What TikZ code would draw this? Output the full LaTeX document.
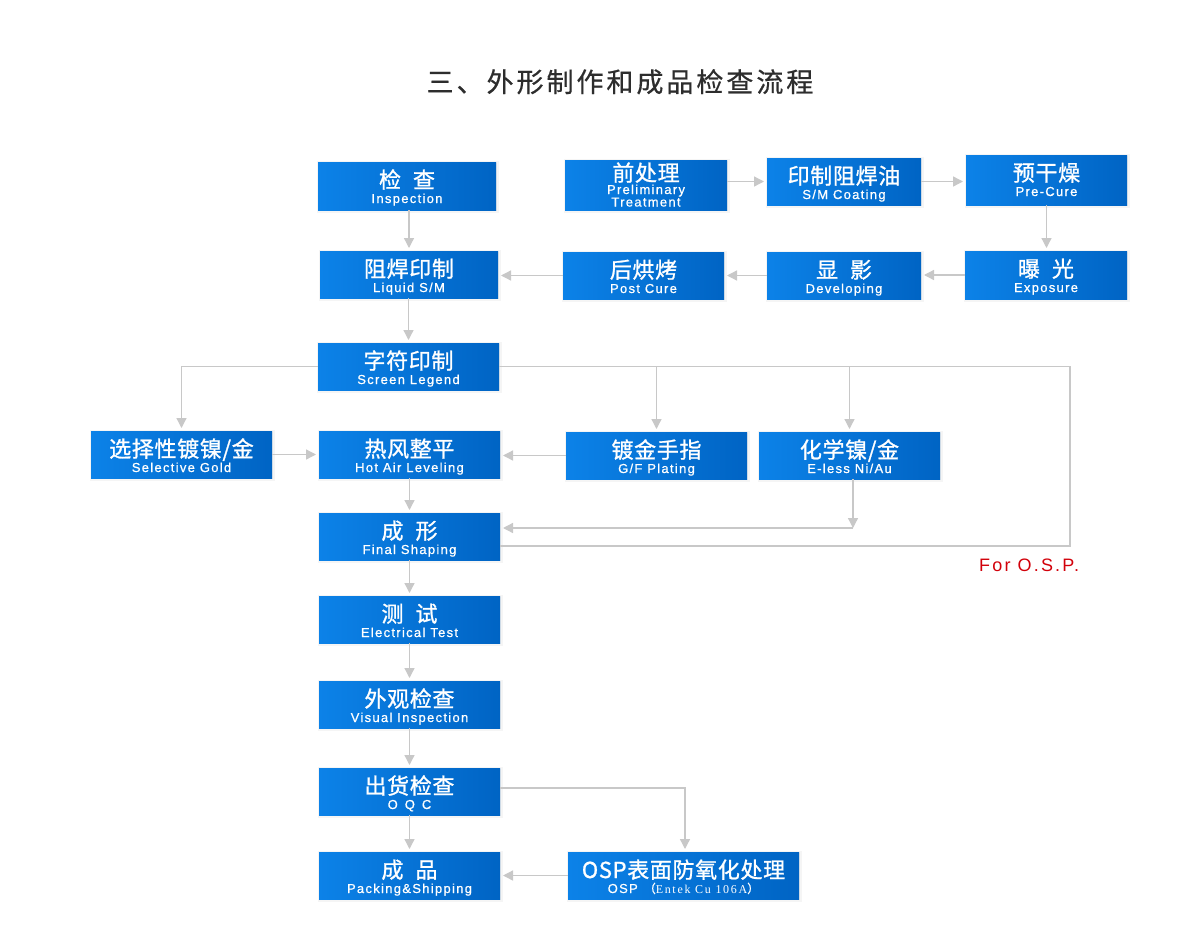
\documentclass[tikz,border=0pt]{standalone}
\usepackage{fontspec}
\usetikzlibrary{arrows.meta,calc}
\setmainfont{Liberation Sans}
\newfontfamily\zhf[LetterSpace=3,FakeBold=1.1]{Noto Sans CJK SC}
\newfontfamily\titlef[LetterSpace=11,FakeBold=0.6]{Noto Sans CJK SC}
\newfontfamily\enf[LetterSpace=10,FakeBold=0.7]{Liberation Sans}
\newfontfamily\serf[LetterSpace=14]{Liberation Serif}
\newfontfamily\ospf[LetterSpace=12]{Liberation Sans}
\definecolor{bl}{RGB}{12,130,232}
\definecolor{br}{RGB}{0,100,196}
\definecolor{lg}{RGB}{200,200,200}
\definecolor{ttl}{RGB}{45,45,45}
\definecolor{osr}{RGB}{210,0,10}
\tikzset{
 box/.style={rectangle, inner sep=0pt, outer sep=0pt, left color=bl, right color=br, draw=none},
 boxsh/.style={rectangle, inner sep=0pt, outer sep=0pt, fill=black!8, draw=black!4, line width=2pt},
 zh/.style={text=white, inner sep=0pt, anchor=base, font=\zhf\fontsize{22}{22}\selectfont},
 en/.style={text=white, inner sep=0pt, anchor=base, font=\enf\fontsize{13}{13}\selectfont},
 con/.style={draw=lg, line width=1.3pt},
 arr/.style={con, -{Triangle[width=10pt,length=10pt]}, shorten >=3pt},
 tip/.style={con, -{Triangle[width=10pt,length=10pt]}},
}
\newcommand\pb[7]{%
 \node[boxsh, minimum width=#4pt+2pt, minimum height=#5pt+2pt] (#1s) at (#2+0.5,#3+1) {};
 \node[box, minimum width=#4pt, minimum height=#5pt] (#1) at (#2,#3) {};
 \node[zh] (#1z) at ([yshift=-26pt]#1.north) {#6};
 \node[en] (#1e) at ([yshift=-41pt]#1.north) {#7};
}
\newcommand\gap{\hspace{12pt}}
\begin{document}
\begin{tikzpicture}[x=1pt,y=-1pt]
\fill[white] (0,0) rectangle (1200,950);
\useasboundingbox (0,0) rectangle (1200,950);
\node[anchor=base, inner sep=0pt, text=ttl, font=\titlef\fontsize{27}{27}\selectfont] (title) at (620,92) {三、外形制作和成品检查流程};
% boxes
\pb{insp}{407}{186}{178}{48}{检\gap 查}{Inspection}
\node[boxsh, minimum width=164pt, minimum height=52pt] (pres) at (646.5,186) {};
\node[box, minimum width=162pt, minimum height=50pt] (pre) at (646,185) {};
\node[zh] (prez) at ([yshift=-21pt]pre.north) {前处理};
\node[en] (pree1) at ([yshift=-34pt]pre.north) {Preliminary};
\node[en] (pree2) at ([yshift=-46.5pt]pre.north) {Treatment};
\pb{smc}{844}{181.5}{154}{47}{印制阻焊油}{S/M Coating}
\pb{prec}{1046.5}{180}{161}{50}{预干燥}{Pre-Cure}
\pb{lsm}{409}{274.5}{178}{47}{阻焊印制}{Liquid S/M}
\pb{post}{643.5}{275.5}{161}{47}{后烘烤}{Post Cure}
\pb{dev}{844}{275.5}{154}{47}{显\gap 影}{Developing}
\pb{exp}{1046}{275}{162}{48}{曝\gap 光}{Exposure}
\pb{leg}{408.5}{366.5}{181}{47}{字符印制}{Screen Legend}
\pb{sel}{181.5}{454.5}{181}{47}{选择性镀镍/金}{Selective Gold}
\pb{hal}{409.5}{454.5}{181}{47}{热风整平}{Hot Air Leveling}
\pb{gf}{656.5}{455.5}{181}{47}{镀金手指}{G/F Plating}
\pb{eni}{849.5}{455.5}{181}{47}{化学镍/金}{E-less Ni/Au}
\pb{shp}{409.5}{536.5}{181}{47}{成\gap 形}{Final Shaping}
\pb{test}{409.5}{619.5}{181}{47}{测\gap 试}{Electrical Test}
\pb{vis}{409.5}{704.5}{181}{47}{外观检查}{Visual Inspection}
\pb{oqc}{409.5}{791.5}{181}{47}{出货检查}{O\hspace{7pt}Q\hspace{7pt}C}
\pb{pack}{409.5}{875.5}{181}{47}{成\gap 品}{Packing\&Shipping}
\pb{osp}{683.5}{875.5}{231}{47}{OSP表面防氧化处理}{OSP\hspace{6pt}{\zhf\fontsize{12}{12}\selectfont（}{\serf\fontsize{12}{12}\selectfont Entek Cu 106A}{\zhf\fontsize{12}{12}\selectfont）}}
% label
\node[anchor=base west, inner sep=0pt, text=osr, font=\ospf\fontsize{18}{18}\selectfont] (forosp) at (979,571) {For O.S.P.};
% connectors
\draw[arr] (lsm.north |- insp.south) -- (lsm.north);
\draw[arr] (pre.east |- smc.west) -- (smc.west);
\draw[arr] (smc.east) -- (smc.east -| prec.west);
\draw[arr] (prec.south) -- (prec.south |- exp.north);
\draw[arr] (exp.west) -- (exp.west -| dev.east);
\draw[arr] (dev.west) -- (dev.west -| post.east);
\draw[arr] (post.west) -- (post.west -| lsm.east);
\draw[arr] (leg.north |- lsm.south) -- (leg.north);
\draw[arr] (leg.west) -| (sel.north);
\coordinate (o1) at (1070,366.5);
\coordinate (o2) at (1070,546);
\draw[con] (leg.east) -- (o1) -- (o2) -- (shp.east |- o2);
\draw[arr] (gf.north |- leg.east) -- (gf.north);
\draw[arr] (eni.north |- leg.east) -- (eni.north);
\draw[arr] (sel.east) -- (sel.east -| hal.west);
\draw[arr] (gf.west) -- (gf.west -| hal.east);
\draw[arr] (shp.north |- hal.south) -- (shp.north);
\coordinate (m) at (853,528);
\draw[tip] (m |- eni.south) -- (m);
\draw[arr] (m) -- (m -| shp.east);
\draw[arr] (shp.south) -- (shp.south |- test.north);
\draw[arr] (test.south) -- (test.south |- vis.north);
\draw[arr] (vis.south) -- (vis.south |- oqc.north);
\draw[arr] (oqc.south) -- (oqc.south |- pack.north);
\coordinate (q) at (685,788);
\draw[arr] (oqc.east |- q) -- (q) -- (q |- osp.north);
\draw[arr] (osp.west) -- (osp.west -| pack.east);
\end{tikzpicture}
\end{document}
